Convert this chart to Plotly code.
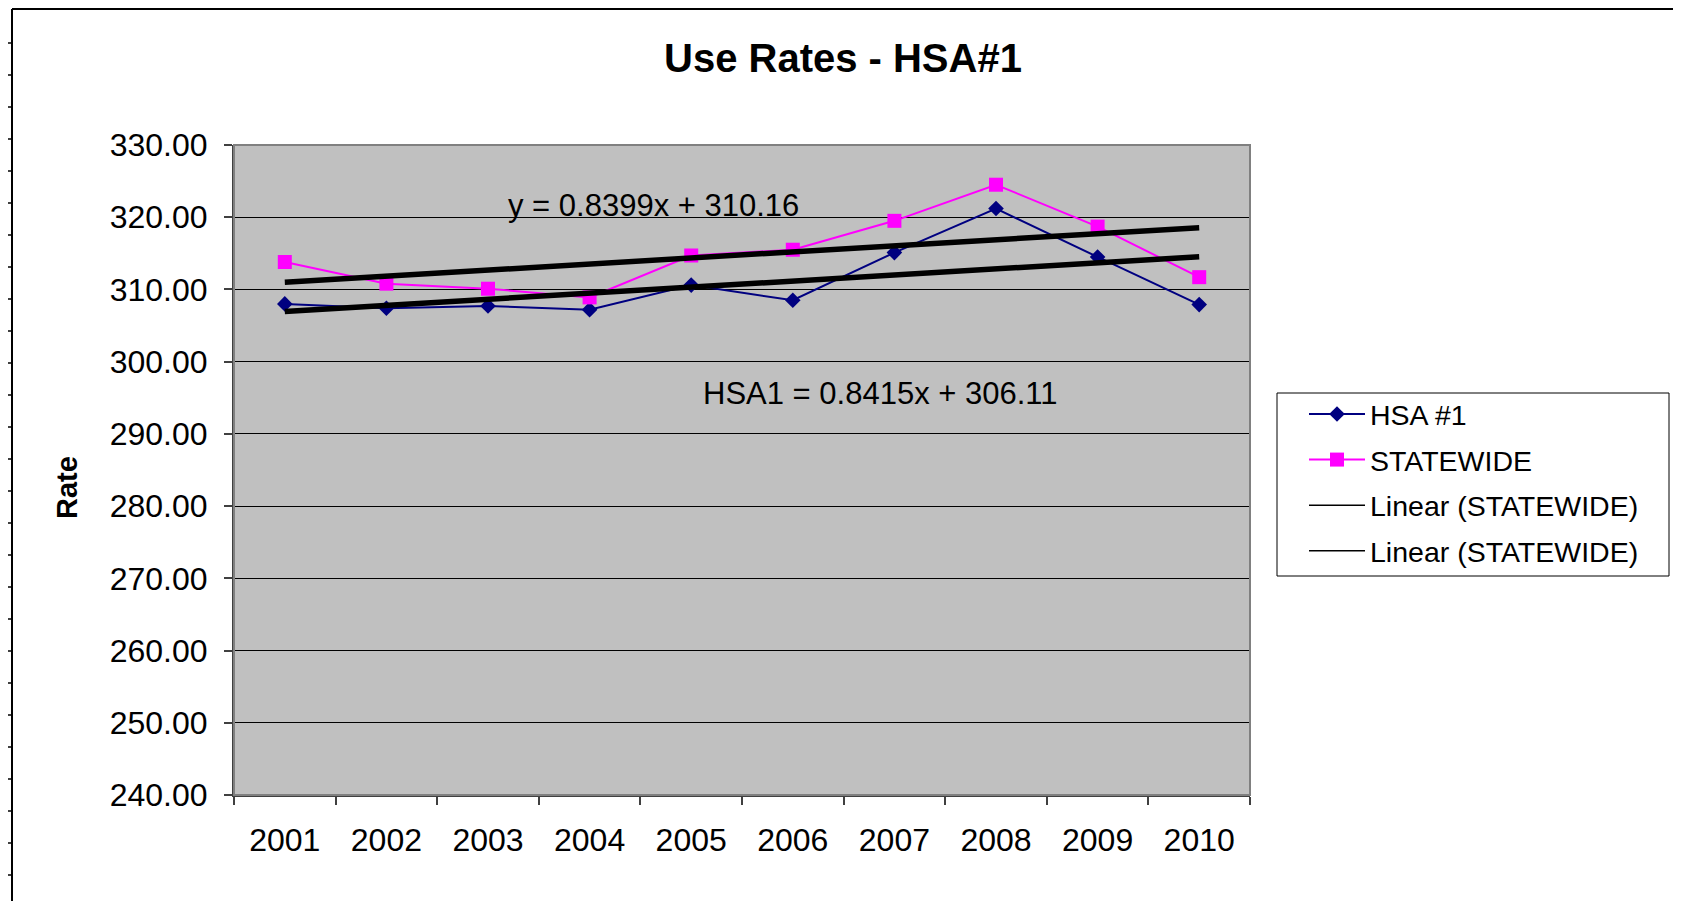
import plotly.graph_objects as go

# ---------------- data ----------------
years = ["2001", "2002", "2003", "2004", "2005", "2006", "2007", "2008", "2009", "2010"]
hsa1 = [308.0, 307.4, 307.7, 307.2, 310.6, 308.5, 315.1, 321.2, 314.5, 307.9]
statewide = [313.8, 310.8, 310.1, 308.9, 314.7, 315.5, 319.5, 324.5, 318.7, 311.7]
trend_names = ["Linear (STATEWIDE)", "Linear (STATEWIDE)"]
trend_slopes = [0.8399, 0.8415]
trend_intercepts = [310.16, 306.11]
trend_labels = ["y = 0.8399x + 310.16", "HSA1 = 0.8415x + 306.11"]
y_ticks = [240, 250, 260, 270, 280, 290, 300, 310, 320, 330]

# ---------------- layout geometry (page pixels) ----------------
OFF = 8                      # default body margin of the html page
PW, PH = 1681, 901           # page size
W, H = PW - OFF, PH - OFF    # figure size
L, R, T, B = 234, 1250, 145, 795   # plot area in page pixels
FONT = "Liberation Sans, Arial, sans-serif"


def px(x):
    return (x - L) / (R - L)


def py(y):
    return (B - y) / (B - T)


fig = go.Figure()

fig.add_trace(go.Scatter(
    x=years, y=hsa1, name="HSA #1", mode="lines+markers",
    line=dict(color="#000080", width=2),
    marker=dict(symbol="diamond", size=12, color="#000080"),
    legendgroup="a",
))
fig.add_trace(go.Scatter(
    x=years, y=statewide, name="STATEWIDE", mode="lines+markers",
    line=dict(color="#FF00FF", width=2),
    marker=dict(symbol="square", size=14, color="#FF00FF"),
    legendgroup="b",
))
for i, (nm, m, c) in enumerate(zip(trend_names, trend_slopes, trend_intercepts)):
    ys = [m * (k + 1) + c for k in range(len(years))]
    fig.add_trace(go.Scatter(
        x=years, y=ys, name=nm, mode="lines",
        line=dict(color="black", width=5.5),
        showlegend=False, legendgroup="t%d" % i,
    ))
# legend entries for the trend lines (thin line as in the reference legend)
for i, nm in enumerate(trend_names):
    fig.add_trace(go.Scatter(
        x=[None], y=[None], name=nm, mode="lines",
        line=dict(color="black", width=1.5),
        legendgroup="t%d" % i, showlegend=True,
    ))

annotations = [
    dict(text="<b>Use Rates - HSA#1</b>", x=px(843), y=py(58), xref="paper", yref="paper",
         showarrow=False, font=dict(size=40, color="black", family=FONT),
         xanchor="center", yanchor="middle"),
    dict(text="<b>Rate</b>", x=px(67), y=py(488), xref="paper", yref="paper",
         showarrow=False, textangle=-90, font=dict(size=29, color="black", family=FONT),
         xanchor="center", yanchor="middle"),
    dict(text=trend_labels[0], x=px(653), y=py(205), xref="paper", yref="paper",
         showarrow=False, font=dict(size=31, color="black", family=FONT),
         xanchor="center", yanchor="middle"),
    dict(text=trend_labels[1], x=px(880), y=py(393), xref="paper", yref="paper",
         showarrow=False, font=dict(size=31, color="black", family=FONT),
         xanchor="center", yanchor="middle"),
]

shapes = []
# plot area border (grey)
shapes.append(dict(type="rect", xref="paper", yref="paper", x0=0, x1=1, y0=0, y1=1,
                   line=dict(color="#808080", width=2), layer="above"))
# legend box
shapes.append(dict(type="rect", xref="paper", yref="paper", x0=px(1277), x1=px(1669),
                   y0=py(393), y1=py(576), line=dict(color="black", width=1),
                   fillcolor="white", layer="below"))
# spreadsheet frame lines
shapes.append(dict(type="line", xref="paper", yref="paper", x0=px(12), x1=px(PW + 5),
                   y0=py(OFF + 1), y1=py(OFF + 1), line=dict(color="black", width=2)))
shapes.append(dict(type="line", xref="paper", yref="paper", x0=px(12), x1=px(12),
                   y0=py(OFF + 1), y1=py(PH + 5), line=dict(color="black", width=2)))
ry = 43
while ry < PH:
    shapes.append(dict(type="line", xref="paper", yref="paper", x0=px(0), x1=px(12),
                       y0=py(ry), y1=py(ry), line=dict(color="black", width=1.5)))
    ry += 32

fig.update_layout(
    width=W, height=H,
    margin=dict(l=L - OFF, r=W - (R - OFF), t=T - OFF, b=H - (B - OFF), pad=0),
    paper_bgcolor="white",
    plot_bgcolor="#C0C0C0",
    font=dict(family=FONT, color="black", size=32),
    showlegend=True,
    legend=dict(
        x=px(1304), y=py(389), xanchor="left", yanchor="top",
        xref="paper", yref="paper",
        bgcolor="rgba(0,0,0,0)", borderwidth=0,
        font=dict(size=28.5, family=FONT, color="black"),
        traceorder="grouped", tracegroupgap=5.5, itemwidth=56,
    ),
    annotations=annotations,
    shapes=shapes,
    xaxis=dict(
        type="category", tickson="boundaries", showgrid=False,
        range=[-0.5, len(years) - 0.5], autorange=False,
        ticks="outside", ticklen=8, tickwidth=1.5, tickcolor="#404040",
        showline=True, linecolor="#404040", linewidth=2,
        tickfont=dict(size=32, family=FONT, color="black"),
        ticklabelstandoff=16, zeroline=False,
    ),
    yaxis=dict(
        range=[240, 330], tickvals=y_ticks, tickformat=".2f",
        showgrid=True, gridcolor="black", gridwidth=1,
        ticks="outside", ticklen=8, tickwidth=1.5, tickcolor="#404040",
        showline=True, linecolor="#404040", linewidth=2,
        tickfont=dict(size=32, family=FONT, color="black"),
        ticklabelstandoff=10, zeroline=False,
    ),
)

fig.write_html("out.html")
